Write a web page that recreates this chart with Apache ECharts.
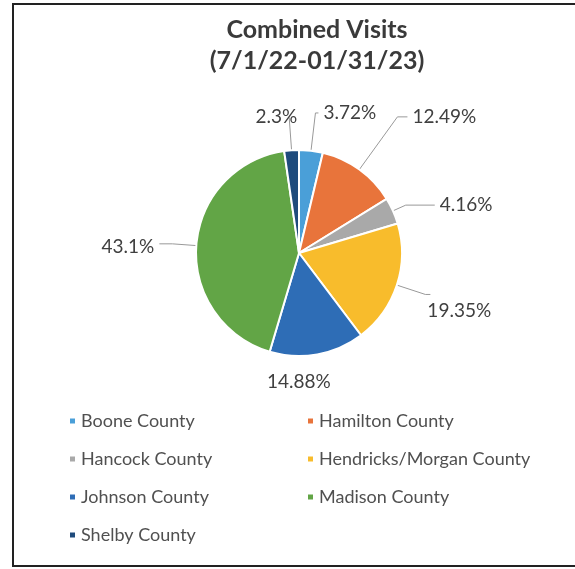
<!DOCTYPE html>
<html>
<head>
<meta charset="utf-8">
<script src="https://cdn.jsdelivr.net/npm/echarts@6/dist/echarts.min.js"></script>
<style>
  html, body { margin: 0; padding: 0; background: #fff; }
  #chart { width: 575px; height: 569px; }
</style>
</head>
<body>
<div id="chart"></div>
<script>
// data
const counties = ["Boone County", "Hamilton County", "Hancock County", "Hendricks/Morgan County",
  "Johnson County", "Madison County", "Shelby County"];
const shares = [3.72, 12.49, 4.16, 19.35, 14.88, 43.1, 2.3];

const colors = ["#4a9fd8", "#e8743b", "#a9a9a9", "#f8bc2c", "#2e6db6", "#62a546", "#1f4b7c"];
// leader line [length, length2] per slice
const lineLen = [[38, 3], [65, 10], [14, 29], [30, 5], [26, 0], [24, 13], [33, 0]];
// small label nudges [dx, dy] so labels sit where Excel put them
const labelShift = [[0, 0], [0, 0], [0, 0], [-8, 16], [-60, 2], [0, 3], [13, 0]];

const font = "Lato, 'Open Sans', sans-serif";
const chart = echarts.init(document.getElementById("chart"));

chart.setOption({
  animation: false,
  color: colors,
  title: {
    text: "Combined Visits\n(7/1/22-01/31/23)",
    left: 312,
    top: 9,
    textAlign: "center",
    textStyle: {
      fontFamily: font,
      fontSize: 25,
      lineHeight: 31,
      fontWeight: "bold",
      color: "#3a3a3a",
    },
  },
  legend: {
    left: 63,
    top: 406,
    width: 490,
    itemWidth: 7,
    itemHeight: 7,
    itemGap: 18,
    icon: "rect",
    textStyle: {
      fontFamily: font,
      fontSize: 18,
      color: "#505050",
      width: 207,
      lineHeight: 20,
    },
  },
  graphic: [{
    type: "rect",
    shape: { x: 13, y: 4, width: 620, height: 562 },
    style: { fill: "none", stroke: "#222", lineWidth: 2 },
    silent: true,
  }],
  series: [{
    type: "pie",
    center: [299, 253],
    radius: 103,
    startAngle: 90,
    clockwise: true,
    avoidLabelOverlap: false,
    itemStyle: { borderColor: "#fff", borderWidth: 2 },
    label: {
      formatter: "{c}%",
      fontFamily: font,
      fontSize: 19,
      color: "#404040",
    },
    labelLine: {
      lineStyle: { color: "#999", width: 1 },
    },
    labelLayout: function (params) {
      const s = labelShift[params.dataIndex];
      return { dx: s[0], dy: s[1] };
    },
    data: counties.map((name, i) => ({
      name: name,
      value: shares[i],
      labelLine: { show: i !== 4, length: lineLen[i][0], length2: lineLen[i][1] },
    })),
  }],
});
</script>
</body>
</html>
